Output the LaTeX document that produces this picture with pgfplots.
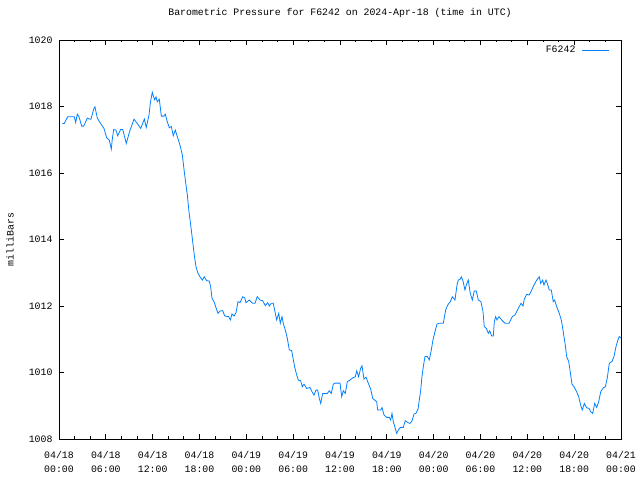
\documentclass[border=0pt]{standalone}
\usepackage{pgfplots}
\pgfplotsset{compat=1.18}
\usepackage{fontspec}
\setmainfont{Liberation Mono}
\definecolor{gpblue}{RGB}{0,128,255}
\begin{document}
\begin{tikzpicture}
\useasboundingbox (0,0) rectangle (640bp,480bp);
\begin{axis}[
  at={(59bp,41bp)}, anchor=south west,
  scale only axis, width=562bp, height=399bp,
  font=\fontsize{9.9}{14}\selectfont,
  xmin=0, xmax=72, ymin=1008, ymax=1020,
  xtick={0,6,...,72},
  xticklabels={{04/18\\00:00},{04/18\\06:00},{04/18\\12:00},{04/18\\18:00},{04/19\\00:00},{04/19\\06:00},{04/19\\12:00},{04/19\\18:00},{04/20\\00:00},{04/20\\06:00},{04/20\\12:00},{04/20\\18:00},{04/21\\00:00}},
  minor xtick={2,4,8,10,14,16,20,22,26,28,32,34,38,40,44,46,50,52,56,58,62,64,68,70},
  ytick={1008,1010,1012,1014,1016,1018,1020},
  yticklabels={1008,1010,1012,1014,1016,1018,1020},
  xticklabel style={align=center, yshift=-9bp},
  yticklabel style={xshift=-3bp},
  tick align=inside,
  major tick length=5bp, minor tick length=2.5bp,
  tick style={black, line width=0.8pt},
  axis line style={line width=0.8pt},
  title={Barometric Pressure for F6242 on 2024-Apr-18 (time in UTC)},
  title style={at={(axis description cs:0.5,1)}, anchor=center, yshift=21bp},
  ylabel={milliBars},
  ylabel style={at={(axis description cs:-0.0872,0.5)}, anchor=center},
  legend style={at={(1,1)}, anchor=north east, draw=none, fill=none, xshift=-8bp, yshift=-2bp, font=\fontsize{9.9}{12}\selectfont},
  legend plot pos=right,
  legend cell align=right,
  legend image code/.code={\path[draw=none,fill=none] (0bp,-2bp) rectangle (32bp,2bp); \draw[#1] (5bp,0bp) -- (32bp,0bp);},
]
\addplot[color=gpblue, line width=0.8pt] coordinates {
(0.42,1017.49) (0.68,1017.49) (1.11,1017.69) (1.96,1017.69) (2.14,1017.52) (2.34,1017.77) (2.56,1017.69) (2.91,1017.41) (3.16,1017.41) (3.63,1017.65)
(3.93,1017.62) (4.10,1017.62) (4.48,1017.95) (4.61,1017.99) (4.74,1017.84) (4.91,1017.65) (5.25,1017.52) (5.76,1017.34) (6.11,1017.06) (6.44,1016.99)
(6.70,1016.72) (6.83,1017.02) (7.01,1017.31) (7.30,1017.29) (7.52,1017.12) (7.90,1017.31) (8.16,1017.31) (8.62,1016.89) (9.06,1017.26) (9.61,1017.62)
(10.03,1017.49) (10.47,1017.34) (10.93,1017.62) (11.18,1017.37) (11.53,1017.74) (11.70,1018.10) (11.95,1018.43) (12.08,1018.32) (12.26,1018.20) (12.43,1018.29)
(12.59,1018.14) (12.85,1018.22) (13.11,1017.71) (13.45,1017.71) (13.62,1017.77) (13.87,1017.54) (14.13,1017.36) (14.39,1017.40) (14.64,1017.12) (14.90,1017.29)
(15.16,1017.09) (15.50,1016.84) (15.80,1016.54) (16.05,1016.04) (16.27,1015.64) (16.44,1015.34) (16.65,1014.84) (16.87,1014.44) (17.13,1013.93) (17.33,1013.53)
(17.55,1013.18) (17.81,1012.98) (18.06,1012.88) (18.36,1012.78) (18.61,1012.88) (18.92,1012.76) (19.25,1012.75) (19.43,1012.58) (19.60,1012.23) (19.86,1012.13)
(20.11,1011.95) (20.37,1011.78) (20.63,1011.85) (20.97,1011.86) (21.23,1011.70) (21.74,1011.68) (21.95,1011.58) (22.16,1011.76) (22.42,1011.70) (22.68,1011.80)
(22.93,1012.13) (23.19,1012.10) (23.53,1012.28) (23.79,1012.25) (23.96,1012.10) (24.38,1012.18) (24.81,1012.08) (25.11,1012.08) (25.40,1012.28) (25.75,1012.18)
(26.10,1012.16) (26.43,1012.01) (26.74,1012.10) (26.94,1012.00) (27.20,1012.08) (27.45,1012.08) (27.71,1011.78) (27.89,1011.58) (28.15,1011.78) (28.35,1011.48)
(28.57,1011.68) (28.73,1011.48) (28.99,1011.28) (29.25,1011.03) (29.50,1010.68) (29.81,1010.66) (30.02,1010.38) (30.23,1010.13) (30.45,1009.93) (30.66,1009.77)
(30.96,1009.75) (31.17,1009.57) (31.39,1009.65) (31.73,1009.52) (32.16,1009.55) (32.37,1009.44) (32.67,1009.32) (32.92,1009.47) (33.14,1009.47) (33.35,1009.22)
(33.53,1009.07) (33.78,1009.37) (34.37,1009.37) (34.63,1009.45) (34.88,1009.37) (35.14,1009.65) (35.40,1009.68) (36.00,1009.68) (36.22,1009.27) (36.42,1009.45)
(36.68,1009.37) (36.93,1009.72) (37.28,1009.77) (37.63,1009.84) (37.96,1009.87) (38.14,1010.05) (38.39,1009.87) (38.65,1010.13) (38.82,1010.20) (39.07,1009.80)
(39.33,1009.86) (39.62,1009.68) (39.93,1009.50) (40.19,1009.22) (40.44,1009.17) (40.70,1009.12) (40.83,1008.87) (41.21,1008.87) (41.38,1008.95) (41.64,1008.72)
(41.98,1008.65) (42.31,1008.65) (42.49,1008.57) (42.66,1008.77) (42.83,1008.52) (43.08,1008.32) (43.26,1008.17) (43.52,1008.29) (43.77,1008.35) (44.11,1008.35)
(44.36,1008.55) (44.71,1008.49) (44.97,1008.47) (45.22,1008.54) (45.48,1008.75) (45.73,1008.77) (45.99,1008.89) (46.16,1009.17) (46.34,1009.47) (46.50,1009.87)
(46.67,1010.17) (46.89,1010.48) (47.18,1010.48) (47.44,1010.38) (47.66,1010.63) (47.91,1010.98) (48.17,1011.23) (48.42,1011.45) (48.68,1011.48) (49.23,1011.48)
(49.54,1011.88) (49.80,1012.03) (50.13,1012.13) (50.39,1012.28) (50.73,1012.18) (50.99,1012.63) (51.15,1012.78) (51.41,1012.81) (51.54,1012.88) (51.76,1012.75)
(52.01,1012.48) (52.18,1012.63) (52.43,1012.78) (52.69,1012.38) (52.95,1012.18) (53.20,1012.45) (53.46,1012.45) (53.72,1012.18) (54.06,1012.13) (54.32,1011.83)
(54.48,1011.38) (54.74,1011.33) (55.00,1011.18) (55.18,1011.25) (55.43,1011.10) (55.64,1011.10) (55.77,1011.53) (55.94,1011.68) (56.11,1011.58) (56.37,1011.68)
(56.71,1011.58) (57.14,1011.48) (57.65,1011.48) (58.07,1011.68) (58.42,1011.73) (58.84,1011.93) (59.19,1012.08) (59.45,1012.00) (59.61,1012.21) (59.92,1012.35)
(60.25,1012.33) (60.56,1012.48) (60.85,1012.63) (61.20,1012.78) (61.53,1012.88) (61.71,1012.68) (61.97,1012.78) (62.13,1012.63) (62.39,1012.78) (62.56,1012.68)
(62.81,1012.48) (63.07,1012.48) (63.32,1012.13) (63.50,1012.18) (63.76,1011.98) (64.09,1011.78) (64.35,1011.58) (64.60,1011.23) (64.86,1010.83) (65.04,1010.48)
(65.30,1010.33) (65.55,1009.93) (65.72,1009.65) (65.98,1009.57) (66.32,1009.42) (66.58,1009.27) (66.83,1009.02) (67.04,1008.87) (67.30,1009.07) (67.60,1008.94)
(67.90,1008.92) (68.12,1008.82) (68.37,1008.77) (68.63,1009.07) (68.89,1008.95) (69.14,1009.12) (69.40,1009.42) (69.73,1009.54) (69.99,1009.57) (70.24,1009.83)
(70.50,1010.28) (70.84,1010.33) (71.10,1010.48) (71.36,1010.78) (71.61,1010.98) (71.78,1011.08) (71.96,1011.05)
};
\addlegendentry{F6242}
\end{axis}
\end{tikzpicture}
\end{document}
